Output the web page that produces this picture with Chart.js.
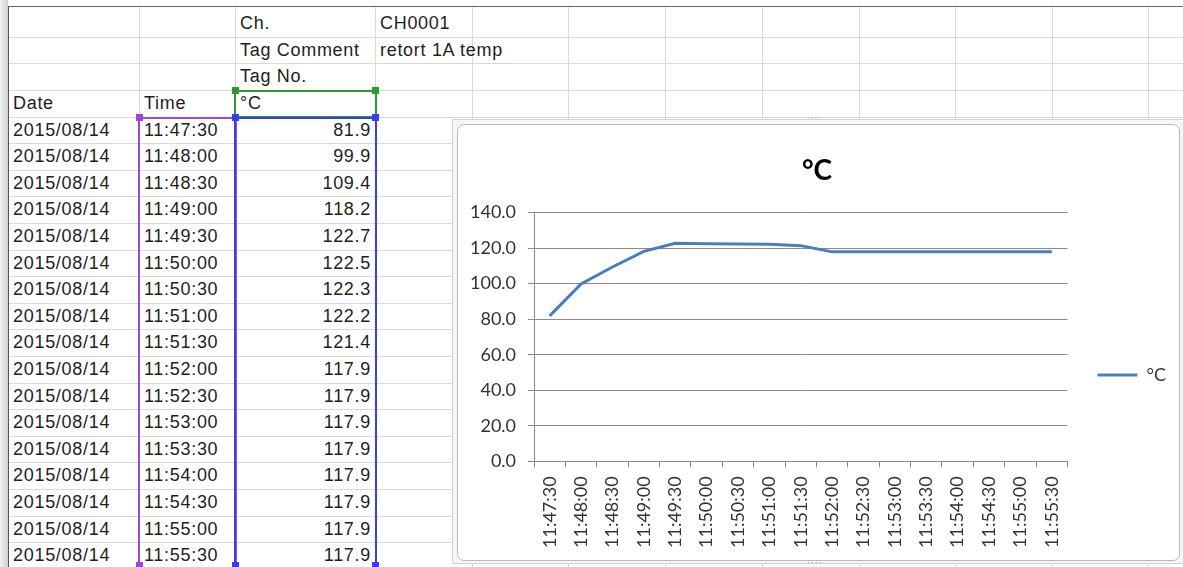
<!DOCTYPE html>
<html>
<head>
<meta charset="utf-8">
<script src="https://cdn.jsdelivr.net/npm/chart.js@4.4.1/dist/chart.umd.min.js"></script>
<style>
  html, body { margin: 0; padding: 0; background: #fff; width: 1183px; height: 567px; overflow: hidden; }
  #sheet { position: absolute; left: 0; top: 0; width: 1183px; height: 567px;
           font-family: "Liberation Sans", Arial, sans-serif; font-size: 18px; color: #1e1e1e; }
  .vl { position: absolute; width: 1px; background: #d9d9d9; }
  .hl { position: absolute; height: 1px; background: #d9d9d9; }
  .cell { position: absolute; white-space: nowrap; letter-spacing: 0.7px; }
  .sel { position: absolute; box-sizing: border-box; }
  .handle { position: absolute; width: 7px; height: 7px; }
  #edgeLeft { position: absolute; left: 0; top: 0; width: 8px; height: 567px;
              background: linear-gradient(to right, #f2f2f2, #cfcfcf); }
  #edgeLeftLine { position: absolute; left: 8px; top: 6px; width: 1px; height: 561px; background: #555; }
  #edgeTopLine { position: absolute; left: 8px; top: 6px; width: 1175px; height: 1px; background: #666; }
  #frameOuter { position: absolute; left: 452px; top: 119px; width: 740px; height: 445px;
                border: 1px solid #d2d2d2; background: #f6f6f6; box-sizing: border-box; }
  #frameInner { position: absolute; left: 457px; top: 124px; width: 723px; height: 437px;
                border: 1px solid #b9b9b9; border-radius: 7px; background: #fff; box-sizing: border-box; overflow: hidden; }
  #chartCanvas { position: absolute; left: 0; top: 0; }
  .dots { position: absolute; font: 9px "DejaVu Sans", sans-serif; color: #9a9a9a; letter-spacing: 1px; }
</style>
</head>
<body>
<div id="sheet">
  <div id="edgeLeft"></div>
  <div id="edgeTopLine"></div>
  <div id="edgeLeftLine"></div>
</div>
<div id="frameOuter"></div>
<span class="dots" style="left:807px;top:113px;">····</span>
<span class="dots" style="left:807px;top:558px;">····</span>
<div id="frameInner"><canvas id="chartCanvas" width="723" height="437"></canvas></div>

<script>
// Logger export: channel header and readings
const channelName = 'CH0001';
const tagComment = 'retort 1A temp';
const unitLabel = '°C';
const recordDate = '2015/08/14';
const times = ['11:47:30', '11:48:00', '11:48:30', '11:49:00', '11:49:30', '11:50:00',
               '11:50:30', '11:51:00', '11:51:30', '11:52:00', '11:52:30', '11:53:00',
               '11:53:30', '11:54:00', '11:54:30', '11:55:00', '11:55:30'];
const temps = [81.9, 99.9, 109.4, 118.2, 122.7, 122.5, 122.3, 122.2, 121.4,
               117.9, 117.9, 117.9, 117.9, 117.9, 117.9, 117.9, 117.9];
const yAxisMin = 0;
const yAxisMax = 140;
const yAxisStep = 20;

// ---- worksheet grid ----
const sheet = document.getElementById('sheet');
const colEdges = [8, 139, 235, 375, 472, 568, 665, 762, 859, 955, 1052, 1148];
const rowH = 26.6;
const firstDataTop = 116.5;
const rowBottom = r => firstDataTop + (r - 3) * rowH;  // r = 0-based row index

function add(cls, style, text) {
  const d = document.createElement('div');
  d.className = cls;
  Object.assign(d.style, style);
  if (text !== undefined) d.textContent = text;
  sheet.appendChild(d);
  return d;
}

colEdges.slice(1).forEach(x => add('vl', { left: x + 'px', top: '7px', height: '560px' }));
for (let r = 0; r < 22; r++) {
  const y = rowBottom(r);
  if (y > 7 && y < 567) add('hl', { left: '9px', top: Math.round(y) + 'px', width: '1174px' });
}

function cellText(r, col, text, align) {
  const top = rowBottom(r) - rowH;
  const style = { top: top + 'px', height: rowH + 'px', lineHeight: rowH + 'px' };
  if (align === 'right') {
    style.left = colEdges[col] + 'px';
    style.width = (colEdges[col + 1] - colEdges[col] - 4) + 'px';
    style.textAlign = 'right';
  } else {
    style.left = (colEdges[col] + 5) + 'px';
  }
  add('cell', style, text);
}

cellText(0, 2, 'Ch.');
cellText(0, 3, channelName);
cellText(1, 2, 'Tag Comment');
cellText(1, 3, tagComment);
cellText(2, 2, 'Tag No.');
cellText(3, 0, 'Date');
cellText(3, 1, 'Time');
cellText(3, 2, unitLabel);
times.forEach((t, i) => {
  cellText(4 + i, 0, recordDate);
  cellText(4 + i, 1, t);
  cellText(4 + i, 2, temps[i].toFixed(1), 'right');
});

// selection outlines with corner handles
const green = '#2e9a2e', purple = '#a444d8', blue = '#3b3bef';
const hdrTop = Math.round(rowBottom(2)), hdrBot = Math.round(rowBottom(3));
add('sel', { left: '234px', top: hdrTop + 'px', width: '143px', height: (hdrBot - hdrTop + 1) + 'px', border: '2px solid ' + green });
add('sel', { left: '138px', top: hdrBot + 'px', width: '99px', height: '460px', border: '2px solid ' + purple });
add('sel', { left: '234px', top: hdrBot + 'px', width: '143px', height: '460px', border: '2px solid ' + blue });
[[235, hdrTop, green], [375, hdrTop, green], [139, hdrBot, purple], [235, hdrBot, blue], [375, hdrBot, blue],
 [139, 565, purple], [235, 565, blue], [375, 565, blue]].forEach(([x, y, c]) =>
  add('handle', { left: (x - 3) + 'px', top: (y - 3) + 'px', background: c }));

// ---- chart ----
// keep the legend centred in the space below the title
const legendCenterY = 250;
const legendPlacement = {
  id: 'legendPlacement',
  afterLayout(chart) {
    const lg = chart.legend;
    if (!lg) return;
    const dy = legendCenterY - (lg.top + lg.bottom) / 2;
    lg.top += dy;
    lg.bottom += dy;
  }
};

const axisGray = '#8a8a8a';
const labelColor = '#333333';
const labelFont = { family: 'Lato', size: 18 };

new Chart(document.getElementById('chartCanvas'), {
  type: 'line',
  data: {
    labels: times,
    datasets: [{
      label: unitLabel,
      data: temps,
      borderColor: '#4a7ebb',
      backgroundColor: '#4a7ebb',
      borderWidth: 3,
      pointRadius: 0,
      tension: 0,
      fill: false
    }]
  },
  options: {
    responsive: false,
    animation: false,
    devicePixelRatio: 1,
    layout: { padding: { left: 0, right: 5, top: 0, bottom: 5 } },
    plugins: {
      title: {
        display: true,
        text: unitLabel,
        color: '#000',
        font: { family: 'Lato', size: 28, weight: 'bold' },
        padding: { top: 29, bottom: 25 }
      },
      legend: {
        position: 'right',
        align: 'center',
        labels: {
          usePointStyle: true,
          pointStyle: 'line',
          pointStyleWidth: 40,
          padding: 30,
          color: labelColor,
          font: labelFont
        }
      },
      tooltip: { enabled: false }
    },
    scales: {
      x: {
        offset: true,
        grid: { offset: true, drawOnChartArea: false, drawTicks: true, tickLength: 6, color: axisGray },
        border: { display: true, color: axisGray },
        ticks: { autoSkip: false, minRotation: 90, maxRotation: 90, padding: 9, color: labelColor, font: labelFont }
      },
      y: {
        min: yAxisMin,
        max: yAxisMax,
        grid: { color: axisGray, tickLength: 6 },
        border: { display: true, color: axisGray },
        ticks: { stepSize: yAxisStep, padding: 12, color: labelColor, font: labelFont,
                 callback: v => Number(v).toFixed(1) }
      }
    }
  },
  plugins: [legendPlacement]
});
</script>
</body>
</html>
